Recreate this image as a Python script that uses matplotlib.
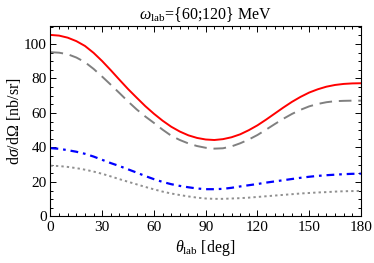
import matplotlib
matplotlib.use("Agg")
import matplotlib.pyplot as plt
from matplotlib.ticker import MultipleLocator

plt.rcParams["font.family"] = ["Liberation Serif", "DejaVu Serif"]
plt.rcParams["mathtext.fontset"] = "custom"
plt.rcParams["mathtext.rm"] = "Liberation Serif"
plt.rcParams["mathtext.it"] = "Liberation Serif:italic"

# scattering angle in the lab frame [deg]
theta = list(range(0, 181, 5))

# cross sections [nb/sr]
red_solid = [105.2, 104.8, 103.6, 101.6, 98.8, 94.8, 90.0, 84.7, 79.2, 73.8,
             68.8, 63.9, 59.5, 55.5, 52.0, 49.2, 47.0, 45.5, 44.6, 44.3,
             44.8, 45.9, 47.6, 50.0, 52.8, 56.1, 59.6, 63.1, 66.4, 69.3,
             71.8, 73.7, 75.2, 76.2, 76.8, 77.1, 77.2]
gray_dashed = [95.2, 94.9, 94.0, 92.1, 89.4, 85.5, 81.0, 76.3, 71.5, 66.6,
               62.0, 57.9, 54.2, 50.3, 46.8, 44.3, 42.3, 40.8, 39.8, 39.3,
               39.5, 40.6, 42.4, 44.6, 47.2, 50.3, 53.5, 56.6, 59.4, 61.8,
               63.8, 65.2, 66.2, 66.8, 67.0, 67.1, 67.1]
blue_dashdot = [39.6, 39.2, 38.4, 37.5, 36.3, 34.7, 32.8, 30.9, 29.2, 27.3,
                25.4, 23.4, 21.6, 20.0, 18.7, 17.7, 16.9, 16.2, 15.8, 15.8,
                16.0, 16.6, 17.4, 18.1, 18.8, 19.6, 20.3, 21.0, 21.7, 22.4,
                23.0, 23.5, 23.9, 24.2, 24.5, 24.7, 24.8]
gray_dotted = [29.4, 29.2, 28.7, 28.0, 27.1, 26.0, 24.7, 23.2, 21.6, 20.1,
               18.6, 17.1, 15.7, 14.4, 13.3, 12.4, 11.6, 10.9, 10.4, 10.2,
               10.2, 10.4, 10.6, 10.9, 11.3, 11.7, 12.1, 12.5, 12.9, 13.3,
               13.6, 13.9, 14.1, 14.4, 14.6, 14.7, 14.8]

fig = plt.figure(figsize=(3.74, 2.63), dpi=100)
ax = fig.add_axes([0.135, 0.177, 0.83, 0.725])

ax.plot(theta, red_solid, color="#ff0000", lw=1.4)
ax.plot(theta, gray_dashed, color="#808080", lw=1.4, dashes=(6.5, 3.5))
ax.plot(theta, blue_dashdot, color="#0000ff", lw=1.6, dashes=(3.5, 2.2, 1.2, 2.2))
ax.plot(theta, gray_dotted, color="#909090", lw=1.4, dashes=(1.2, 1.6))

ax.set_xlim(0, 180)
ax.set_ylim(0, 110.5)
ax.xaxis.set_major_locator(MultipleLocator(30))
ax.xaxis.set_minor_locator(MultipleLocator(5))
ax.yaxis.set_major_locator(MultipleLocator(20))
ax.yaxis.set_minor_locator(MultipleLocator(5))
ax.tick_params(which="both", direction="in", top=True, right=True,
               labelsize=11, width=0.7)
ax.tick_params(axis="x", pad=3)
ax.tick_params(axis="y", pad=2.5)
ax.tick_params(which="major", length=4)
ax.tick_params(which="minor", length=2.2)
for s in ax.spines.values():
    s.set_linewidth(0.8)

ax.set_title(r"$\omega_{\rm lab}$={60;120} MeV", fontsize=11.5, pad=5)
ax.set_xlabel(r"$\theta_{\rm lab}$ [deg]", fontsize=11.5, labelpad=3)
ax.set_ylabel(r"d$\sigma$/d$\Omega$ [nb/sr]", fontsize=11.5, labelpad=1)

plt.savefig("out.png", dpi=100)
plt.close()
